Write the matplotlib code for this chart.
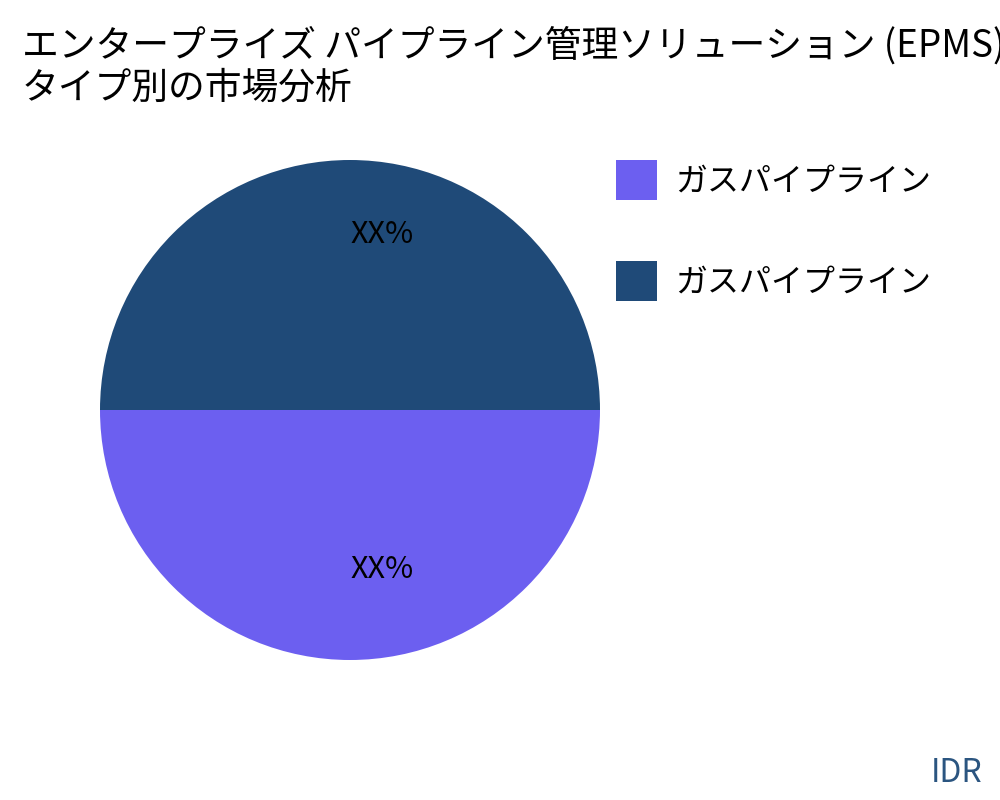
import matplotlib.pyplot as plt

plt.rcParams['font.family'] = ['Noto Sans CJK JP', 'DejaVu Sans']

# chart data
title = "エンタープライズ パイプライン管理ソリューション (EPMS)\nタイプ別の市場分析"
labels = ["ガスパイプライン", "ガスパイプライン"]
values = [50, 50]
pct_labels = ["XX%", "XX%"]
colors = ["#6C5FF0", "#1F4A78"]

fig = plt.figure(figsize=(10, 8), dpi=100)
ax = fig.add_axes([0.1, 0.175, 0.5, 0.625])

wedges, texts = ax.pie(values, colors=colors, startangle=180,
                       labels=pct_labels, labeldistance=0.67,
                       textprops={'fontsize': 22, 'va': 'baseline'})
# labels start at the slice's mid line, as in the original
for t in texts:
    t.set_ha('left')
ax.set_aspect('equal')
ax.set_xlim(-1, 1)
ax.set_ylim(-1, 1)

fig.text(0.022, 0.967, title, fontsize=26.5, va='top', ha='left',
         linespacing=1.1)

fig.legend(wedges, labels, loc='upper left', bbox_to_anchor=(0.587, 0.836),
           frameon=False, fontsize=23, handlelength=1.28, handleheight=1.55,
           labelspacing=1.92, handletextpad=0.59)

fig.text(0.982, 0.0225, "IDR", fontsize=23, color="#2B5580",
         ha='right', va='baseline')

fig.savefig("out.png", dpi=100)
